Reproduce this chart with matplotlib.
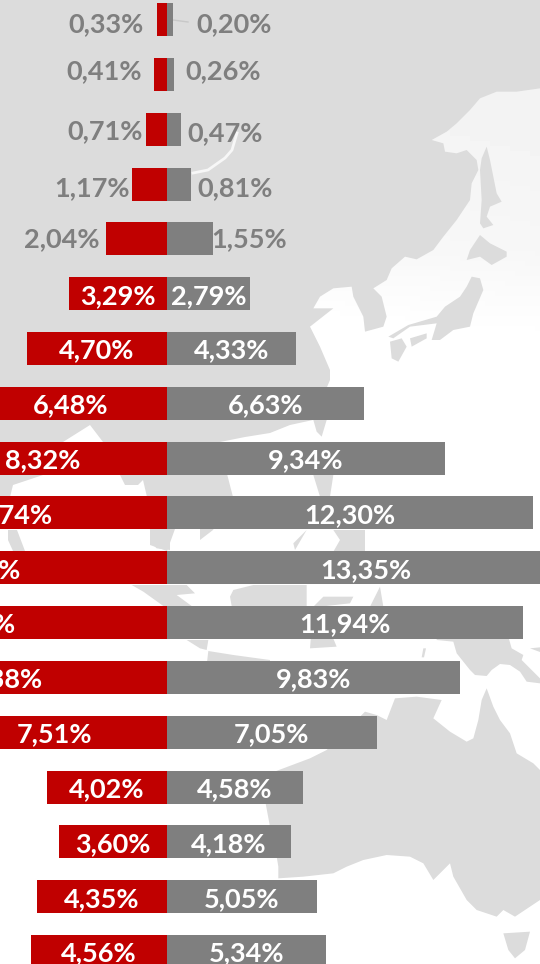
import numpy as np
import matplotlib
matplotlib.use("Agg")
import matplotlib.pyplot as plt
from matplotlib.patches import Polygon

# share of population per age row, top row first
female = [0.33, 0.41, 0.71, 1.17, 2.04, 3.29, 4.70, 6.48, 8.32, 10.74, 12.90, 13.20, 11.38, 7.51, 4.02, 3.60, 4.35, 4.56]
male = [0.20, 0.26, 0.47, 0.81, 1.55, 2.79, 4.33, 6.63, 9.34, 12.30, 13.35, 11.94, 9.83, 7.05, 4.58, 4.18, 5.05, 5.34]

RED = "#C00000"
GREY = "#7F7F7F"
LAND = "#DCDCDC"
FONT_SIZE = 19.5
ROW_PX = 54.82

# small rows have the label outside the bar: pixel offset from the bar end
left_offsets = [(-51, -5), (-50, 3), (-40, -2), (-40, -4), (-44, 0)]
right_offsets = [(61, -5), (49, 3), (44, -4), (44, -4), (36, 0)]


# background map outlines, in zoom-crop pixels (x0, y0 is the crop origin)
def crop(x0, y0, pts):
    return [(x0 + x / 3, y0 + y / 3) for x, y in pts]


asia_north = crop(270, 60, [(810, 85), (740, 95), (680, 95), (630, 115), (600, 150), (560, 190), (530, 215), (485, 240),
    (520, 250), (525, 275), (560, 280), (590, 270), (620, 300), (625, 330), (605, 370), (600, 420), (560, 480),
    (520, 530), (490, 570), (440, 598), (405, 590), (365, 625), (350, 660), (310, 685), (335, 710), (350, 770),
    (340, 800), (285, 815), (280, 770), (250, 710), (245, 680), (190, 685), (150, 710), (130, 745), (190, 745),
    (120, 800), (150, 860), (180, 930), (180, 960)])
asia_south = [(330, 380), (313, 420), (290, 425), (270, 433), (245, 437), (220, 442), (226, 470), (233, 497),
    (213, 530), (200, 540), (200, 529), (175, 529), (167, 551), (150, 545), (150, 530), (147, 497), (143, 480),
    (138, 485), (125, 485), (120, 475), (103, 442), (90, 425), (63, 442), (43, 475), (13, 485), (10, 497), (0, 497),
    (0, 0), (540, 0)]
islands = [
    crop(270, 60, [(650, 260), (660, 300), (680, 400), (695, 425), (660, 440), (650, 470), (670, 495), (640, 505),
        (630, 490), (635, 420), (630, 330), (635, 295)]),
    crop(270, 60, [(630, 525), (660, 550), (710, 575), (710, 590), (665, 615), (630, 590), (590, 600), (600, 570)]),
    crop(270, 60, [(605, 650), (630, 655), (640, 690), (610, 760), (600, 800), (550, 810), (510, 840), (485, 840),
        (500, 790), (420, 800), (370, 835), (355, 830), (415, 795), (500, 770), (525, 740), (570, 710), (590, 680)]),
    crop(270, 60, [(360, 845), (395, 835), (410, 860), (385, 905), (365, 895)]),
    crop(270, 60, [(420, 835), (470, 820), (470, 835), (425, 860)]),
    [(8, 530), (17, 530), (25, 551), (13, 551), (8, 540)],
    crop(0, 525, [(395, 180), (560, 180), (585, 205), (530, 210), (575, 243), (490, 243), (430, 200)]),
    crop(0, 525, [(560, 345), (625, 345), (620, 375), (600, 370)]),
    crop(0, 525, [(625, 378), (700, 390), (810, 405), (810, 420), (620, 420)]),
    crop(0, 525, [(460, 15), (510, 15), (510, 75), (470, 70), (450, 50)]),
    crop(0, 525, [(700, 195), (760, 180), (920, 180), (920, 243), (900, 330), (760, 335), (695, 243), (690, 215)]),
    crop(270, 370, [(130, 150), (170, 150), (155, 200), (140, 185)]),
    crop(270, 370, [(130, 315), (190, 315), (180, 380), (150, 380)]),
    crop(270, 370, [(70, 520), (110, 480), (75, 540)]),
    crop(270, 370, [(190, 480), (285, 480), (285, 545), (190, 545), (210, 510)]),
    crop(270, 370, [(130, 710), (160, 680), (250, 680), (240, 700), (150, 710), (200, 830), (120, 835)]),
    crop(270, 370, [(300, 710), (330, 650), (340, 710)]),
    crop(420, 600, [(10, 145), (18, 145), (12, 172), (5, 172)]),
    crop(420, 600, [(330, 145), (360, 142), (360, 156)]),
    crop(270, 660, [(700, 820), (780, 815), (765, 870), (735, 895), (715, 870)]),
]
new_guinea = crop(420, 600, [(50, 120), (100, 125), (110, 160), (150, 210), (165, 225), (200, 228), (215, 210), (240, 192),
    (270, 195), (300, 215), (320, 245), (360, 250), (360, 235), (330, 205), (305, 180), (310, 165), (275, 145),
    (265, 110), (50, 110)])
australia = crop(270, 660, [(810, 330), (790, 310), (740, 280), (720, 220), (690, 180), (670, 140), (650, 85), (635, 120),
    (625, 180), (610, 235), (590, 245), (540, 215), (490, 175), (515, 120), (440, 110), (375, 115), (350, 180),
    (320, 165), (285, 155), (170, 270), (120, 295), (40, 325), (0, 340), (-15, 420), (0, 500), (15, 560), (25, 620),
    (25, 655), (100, 650), (190, 640), (230, 620), (280, 600), (350, 585), (420, 590), (460, 610), (490, 660),
    (540, 610), (550, 650), (590, 720), (620, 750), (680, 770), (700, 750), (735, 770), (780, 740), (810, 720)])

fig = plt.figure(figsize=(5.4, 9.64), dpi=100)
plt.rcParams["font.family"] = ["Lato", "DejaVu Sans"]

# map layer
bg = fig.add_axes([0, 0, 1, 1], zorder=0)
bg.set_xlim(0, 540)
bg.set_ylim(964, 0)
bg.axis("off")
xx, yy = np.meshgrid(np.linspace(0, 540, 108), np.linspace(0, 964, 192))
shade = np.clip(0.955 + (yy - 0.25 * xx) / 9000 + np.clip(yy - 250, 0, None) / 4000, 0, 1)
bg.imshow(shade, extent=(0, 540, 964, 0), cmap="gray", vmin=0, vmax=1, aspect="auto")
for outline in [asia_north + asia_south, australia, new_guinea] + islands:
    bg.add_patch(Polygon(outline, closed=True, fc=LAND, ec="none"))
# lake and the thin leader of the first label
bg.plot([193, 208, 225, 232, 237], [173, 170, 158, 150, 133], color="#F7F7F7", lw=2)
bg.plot([173, 188], [20, 22], color="#C8C8C8", lw=1)

# bars, axis is in percent with 0 at the middle line
ax = fig.add_axes([0, 0, 1, 1], zorder=1)
ax.patch.set_alpha(0)
ax.set_xlim(-166.7 / 29.8, (540 - 166.7) / 29.8)
ax.set_ylim((964 - 19.6) / ROW_PX, -19.6 / ROW_PX)
ax.axis("off")

rows = np.arange(len(female))
ax.barh(rows, [-v for v in female], height=33 / ROW_PX, color=RED)
ax.barh(rows, male, height=33 / ROW_PX, color=GREY)


def pct(v):
    return f"{v:.2f}%".replace(".", ",")


def label(text, xy, offset, color):
    ax.annotate(text, xy, xytext=offset, textcoords="offset pixels", ha="center", va="center",
                color=color, fontsize=FONT_SIZE, fontweight="bold", annotation_clip=False)


for i, (f, m) in enumerate(zip(female, male)):
    if i < len(left_offsets):
        label(pct(f), (-f, i), left_offsets[i], GREY)
        label(pct(m), (m, i), right_offsets[i], GREY)
    else:
        label(pct(f), (-f / 2, i), (0, -2), "white")
        label(pct(m), (m / 2, i), (0, -2), "white")

fig.savefig("out.png", dpi=100)
